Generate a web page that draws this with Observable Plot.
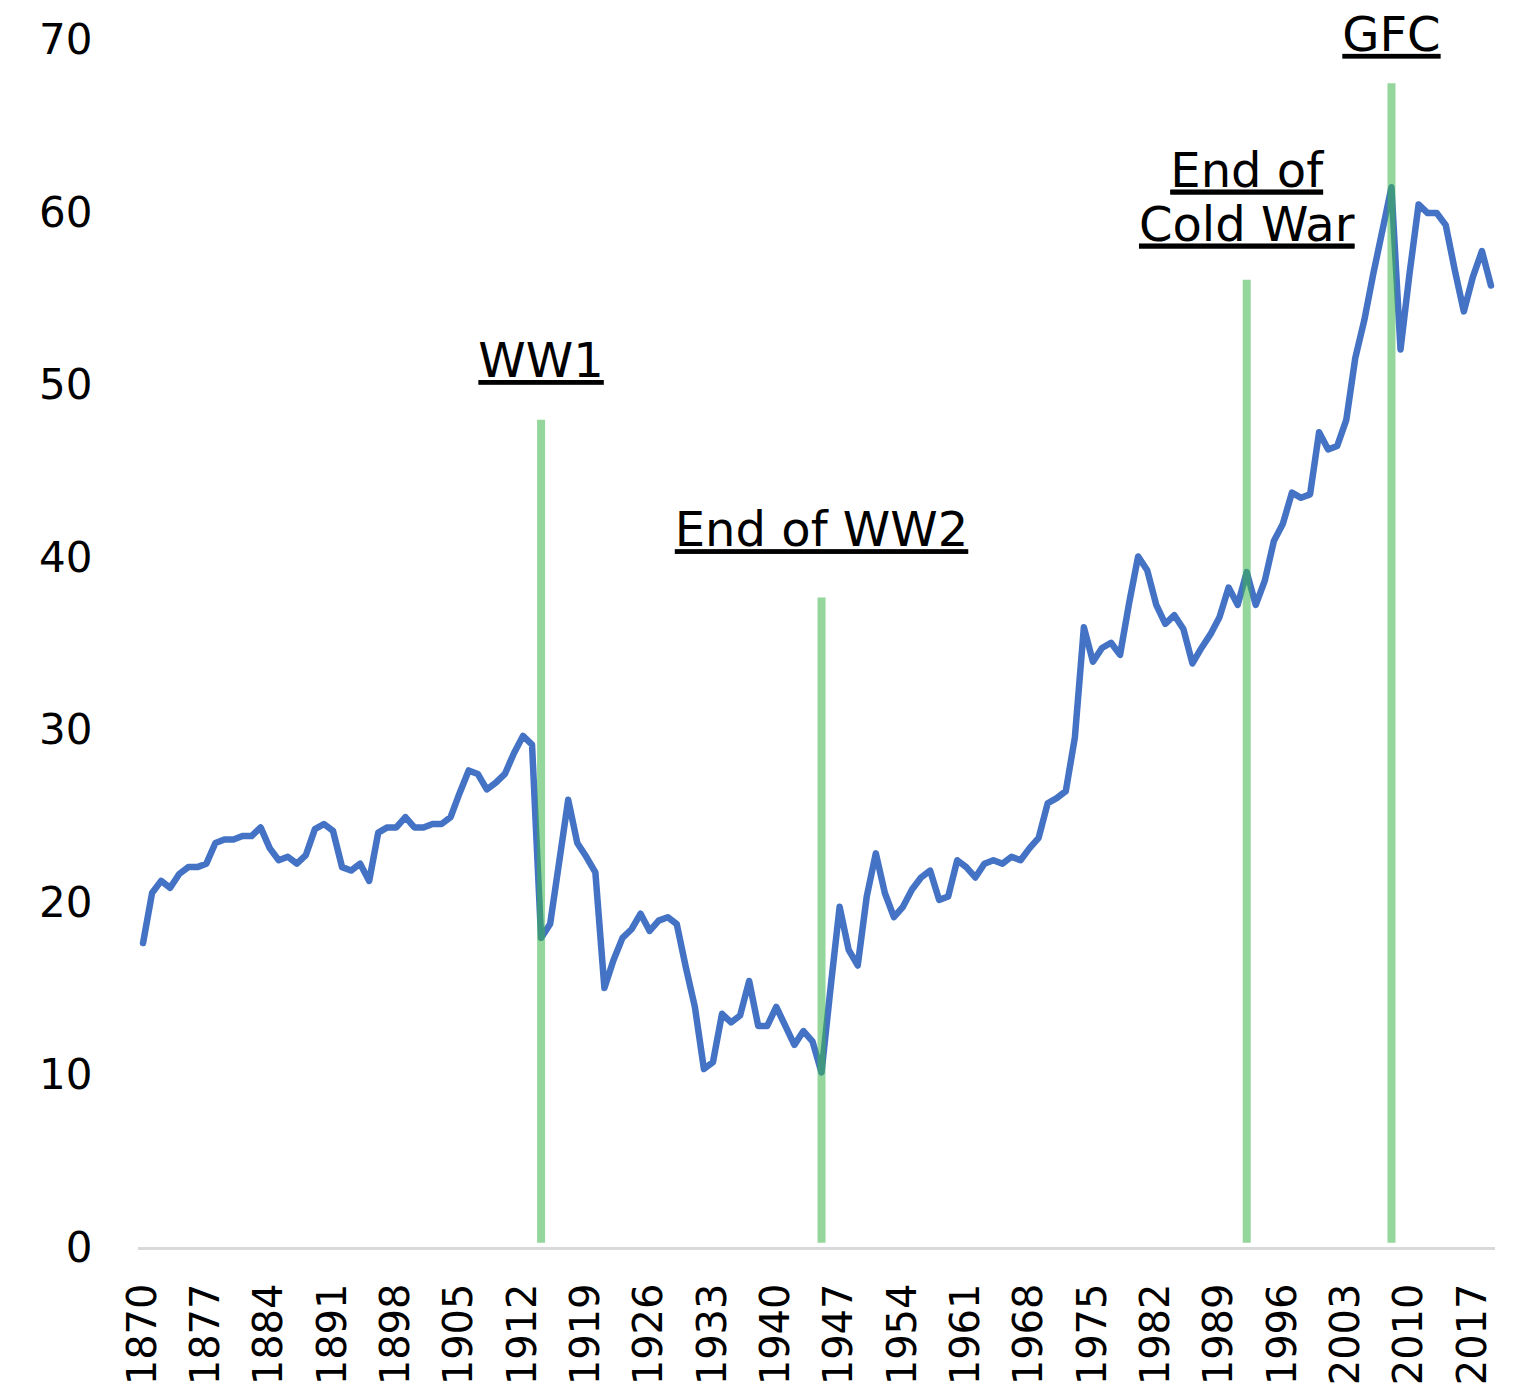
<!DOCTYPE html>
<html><head><meta charset="utf-8">
<script src="https://cdn.jsdelivr.net/npm/d3@7"></script>
<script src="https://cdn.jsdelivr.net/npm/@observablehq/plot@0.6"></script>
<style>body{margin:0;background:#fff} svg{display:block}</style>
</head><body><div id="chart"></div>
<script>
const startYear = 1870;
const values = [
  17.7,20.6,21.3,20.9,21.7,22.1,22.1,22.3,23.5,23.7,
  23.7,23.9,23.9,24.4,23.2,22.5,22.7,22.3,22.8,24.3,
  24.6,24.2,22.1,21.9,22.3,21.3,24.1,24.4,24.4,25.0,
  24.4,24.4,24.6,24.6,25.0,26.4,27.7,27.5,26.6,27.0,
  27.5,28.7,29.7,29.2,18.0,18.8,22.4,26.0,23.5,22.7,
  21.8,15.1,16.7,18.0,18.5,19.4,18.4,19.0,19.2,18.8,
  16.3,14.0,10.4,10.8,13.6,13.1,13.5,15.5,12.9,12.9,
  14.0,12.9,11.8,12.6,12.0,10.2,15.1,19.8,17.3,16.4,
  20.4,22.9,20.6,19.2,19.8,20.8,21.5,21.9,20.2,20.4,
  22.5,22.1,21.5,22.3,22.5,22.3,22.7,22.5,23.2,23.8,
  25.8,26.1,26.5,29.6,36.0,34.0,34.8,35.1,34.4,37.4,
  40.1,39.3,37.3,36.2,36.7,35.9,33.9,34.8,35.6,36.6,
  38.3,37.3,39.2,37.3,38.7,41.0,42.0,43.8,43.5,43.7,
  47.3,46.3,46.5,48.0,51.6,53.8,56.5,59.0,61.5,52.1,
  56.5,60.5,60.0,60.0,59.3,56.7,54.3,56.3,57.8,55.8
];
const tickYears = [1870,1877,1884,1891,1898,1905,1912,1919,1926,1933,1940,1947,1954,1961,1968,1975,1982,1989,1996,2003,2010,2017];
const yTicks = [0,10,20,30,40,50,60,70];
const eventYears = [1914,1945,1992,2008];
const eventTops = [48.0,37.7,56.1,67.5];
const eventLabels = ["WW1","End of WW2","End of\nCold War","GFC"];
const labelBaselines = [50.5,40.7,58.4,69.4];

const series = values.map((v,i)=>({year:startYear+i, value:v}));
const events = eventYears.map((y,i)=>({year:y, top:eventTops[i], label:eventLabels[i], ly:labelBaselines[i]}));

const chart = Plot.plot({
  width:1514, height:1389,
  marginLeft:138, marginRight:19, marginTop:40, marginBottom:141,
  style:{fontFamily:"DejaVu Sans", background:"#fff", color:"#000", overflow:"visible"},
  x:{domain:[1869.5,2019.5]},
  y:{domain:[0,70]},
  marks:[
    Plot.axisX({ticks:tickYears, tickFormat:d=>String(d), tickRotate:-90, tickSize:0, tickPadding:35, fontSize:40, label:null}),
    Plot.axisY({ticks:yTicks, tickSize:0, tickPadding:46, fontSize:42, label:null}),
    Plot.ruleY([0],{stroke:"#d9d9d9",strokeWidth:3}),
    Plot.line(series,{x:"year",y:"value",stroke:"#4472c4",strokeWidth:6.5,strokeLinejoin:"round",strokeLinecap:"round"}),
    Plot.ruleX(events,{x:"year",y1:0.3,y2:"top",stroke:"rgb(60,180,75)",strokeOpacity:0.55,strokeWidth:8}),
    Plot.text(events,{x:"year",y:"ly",text:"label",fontSize:48,lineAnchor:"bottom",lineHeight:1.125,fill:"#000"})
  ]
});
const labelSet = new Set(eventLabels.flatMap(s=>s.split("\n")));
chart.querySelectorAll("text, tspan").forEach(t=>{
  const s = t.textContent;
  if (labelSet.has(s) || eventLabels.includes(s) || eventLabels.map(l=>l.replace("\n","")).includes(s)) {
    t.setAttribute("text-decoration","underline");
    t.style.textDecoration = "underline";
  }
});
document.getElementById("chart").appendChild(chart);
</script>
</body></html>
